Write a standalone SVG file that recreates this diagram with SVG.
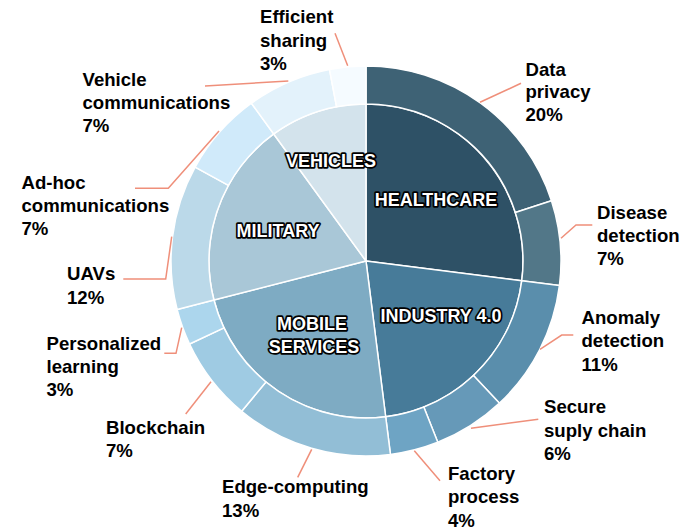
<svg xmlns="http://www.w3.org/2000/svg" width="694" height="531" viewBox="0 0 694 531">
<style>
.s{stroke:#ffffff;stroke-width:1.5;stroke-linejoin:round}
.in{font-family:"Liberation Sans",Arial,sans-serif;font-weight:bold;font-size:18px;fill:#ffffff;stroke:#000000;stroke-width:3.4;paint-order:stroke;stroke-linejoin:round;text-anchor:middle}
.lb{font-family:"Liberation Sans",Arial,sans-serif;font-weight:bold;font-size:18.6px;fill:#000000}
.ld{fill:none;stroke:#ef8f7a;stroke-width:1.5}
</style>
<rect width="694" height="531" fill="#ffffff"/>
<g id="healthcare">
<path class="s" fill="#2e5166" d="M366 261 L366 104 A157 157 0 0 1 521.76 280.68 Z"/>
<text class="in" x="436" y="205.5">HEALTHCARE</text>
</g>
<g id="industry">
<path class="s" fill="#477b99" d="M366 261 L521.76 280.68 A157 157 0 0 1 385.68 416.76 Z"/>
<text class="in" x="441" y="322">INDUSTRY 4.0</text>
</g>
<g id="mobile">
<path class="s" fill="#7eabc3" d="M366 261 L385.68 416.76 A157 157 0 0 1 213.93 300.04 Z"/>
<text class="in" x="312" y="330">MOBILE</text>
<text class="in" x="314" y="353">SERVICES</text>
</g>
<g id="military">
<path class="s" fill="#a9c7d7" d="M366 261 L213.93 300.04 A157 157 0 0 1 273.72 133.98 Z"/>
<text class="in" x="278" y="236.5">MILITARY</text>
</g>
<g id="vehicles">
<path class="s" fill="#d3e3ec" d="M366 261 L273.72 133.98 A157 157 0 0 1 366 104 Z"/>
<text class="in" x="331" y="166.5">VEHICLES</text>
</g>
<g id="data-privacy">
<path class="s" fill="#3e6275" d="M366 66 A195 195 0 0 1 551.46 200.74 L515.32 212.48 A157 157 0 0 0 366 104 Z"/>
<text class="lb" x="525.5" y="75.5">Data<tspan x="525.5" dy="22.7">privacy</tspan><tspan x="525.5" dy="22.7">20%</tspan></text>
</g>
<g id="disease-detection">
<path class="s" fill="#527788" d="M551.46 200.74 A195 195 0 0 1 559.46 285.44 L521.76 280.68 A157 157 0 0 0 515.32 212.48 Z"/>
<text class="lb" x="597" y="218.5">Disease<tspan x="597" dy="23">detection</tspan><tspan x="597" dy="23">7%</tspan></text>
</g>
<g id="anomaly-detection">
<path class="s" fill="#5a8eac" d="M559.46 285.44 A195 195 0 0 1 499.49 403.15 L473.47 375.45 A157 157 0 0 0 521.76 280.68 Z"/>
<text class="lb" x="581.5" y="324">Anomaly<tspan x="581.5" dy="23.3">detection</tspan><tspan x="581.5" dy="23.3">11%</tspan></text>
</g>
<g id="secure-supply-chain">
<path class="s" fill="#6699b8" d="M499.49 403.15 A195 195 0 0 1 437.78 442.31 L423.79 406.98 A157 157 0 0 0 473.47 375.45 Z"/>
<text class="lb" x="544" y="413">Secure<tspan x="544" dy="23.5">suply chain</tspan><tspan x="544" dy="23.5">6%</tspan></text>
</g>
<g id="factory-process">
<path class="s" fill="#6ea4c4" d="M437.78 442.31 A195 195 0 0 1 390.44 454.46 L385.68 416.76 A157 157 0 0 0 423.79 406.98 Z"/>
<text class="lb" x="448" y="480">Factory<tspan x="448" dy="23.3">process</tspan><tspan x="448" dy="23.3">4%</tspan></text>
</g>
<g id="edge-computing">
<path class="s" fill="#92bed6" d="M390.44 454.46 A195 195 0 0 1 241.70 411.25 L265.93 381.97 A157 157 0 0 0 385.68 416.76 Z"/>
<text class="lb" x="222" y="492.5">Edge-computing<tspan x="222" dy="24">13%</tspan></text>
</g>
<g id="blockchain">
<path class="s" fill="#9fcbe3" d="M241.70 411.25 A195 195 0 0 1 189.56 344.03 L223.94 327.85 A157 157 0 0 0 265.93 381.97 Z"/>
<text class="lb" x="106" y="433.5">Blockchain<tspan x="106" dy="23.5">7%</tspan></text>
</g>
<g id="personalized-learning">
<path class="s" fill="#acd6ed" d="M189.56 344.03 A195 195 0 0 1 177.13 309.49 L213.93 300.04 A157 157 0 0 0 223.94 327.85 Z"/>
<text class="lb" x="46.5" y="349.5">Personalized<tspan x="46.5" dy="23.3">learning</tspan><tspan x="46.5" dy="23.3">3%</tspan></text>
</g>
<g id="uavs">
<path class="s" fill="#bbd9e9" d="M177.13 309.49 A195 195 0 0 1 195.12 167.06 L228.42 185.37 A157 157 0 0 0 213.93 300.04 Z"/>
<text class="lb" x="67" y="280">UAVs<tspan x="67" dy="24">12%</tspan></text>
</g>
<g id="ad-hoc-communications">
<path class="s" fill="#d0eafa" d="M195.12 167.06 A195 195 0 0 1 251.38 103.24 L273.72 133.98 A157 157 0 0 0 228.42 185.37 Z"/>
<text class="lb" x="21.5" y="188.5">Ad-hoc<tspan x="21.5" dy="23.3">communications</tspan><tspan x="21.5" dy="23.3">7%</tspan></text>
</g>
<g id="vehicle-communications">
<path class="s" fill="#e3f2fb" d="M251.38 103.24 A195 195 0 0 1 329.46 69.45 L336.58 106.78 A157 157 0 0 0 273.72 133.98 Z"/>
<text class="lb" x="82.5" y="86">Vehicle<tspan x="82.5" dy="23.2">communications</tspan><tspan x="82.5" dy="23.2">7%</tspan></text>
</g>
<g id="efficient-sharing">
<path class="s" fill="#f5fbff" d="M329.46 69.45 A195 195 0 0 1 366 66 L366 104 A157 157 0 0 0 336.58 106.78 Z"/>
<text class="lb" x="260" y="23.3">Efficient<tspan x="260" dy="23.3">sharing</tspan><tspan x="260" dy="23.3">3%</tspan></text>
</g>
<g id="connectors">
<polyline class="ld" points="480,102.3 521,83.3"/>
<polyline class="ld" points="561,238.3 576,225 592.3,225"/>
<polyline class="ld" points="540,349.3 561.7,335 573.3,335"/>
<polyline class="ld" points="471,428.3 538.3,419.3"/>
<polyline class="ld" points="414.3,450.7 440,480.7"/>
<polyline class="ld" points="311.7,449.3 297.7,477.3"/>
<polyline class="ld" points="211,381.7 185.7,414"/>
<polyline class="ld" points="181.7,327.7 176,353.3 164.3,353.3"/>
<polyline class="ld" points="171.7,236.7 165.7,279 123.3,279"/>
<polyline class="ld" points="219,131 168.3,188.3 135,188.3"/>
<polyline class="ld" points="288.3,81 205,86"/>
<polyline class="ld" points="335,33.3 347.7,65.7"/>
</g>
</svg>
